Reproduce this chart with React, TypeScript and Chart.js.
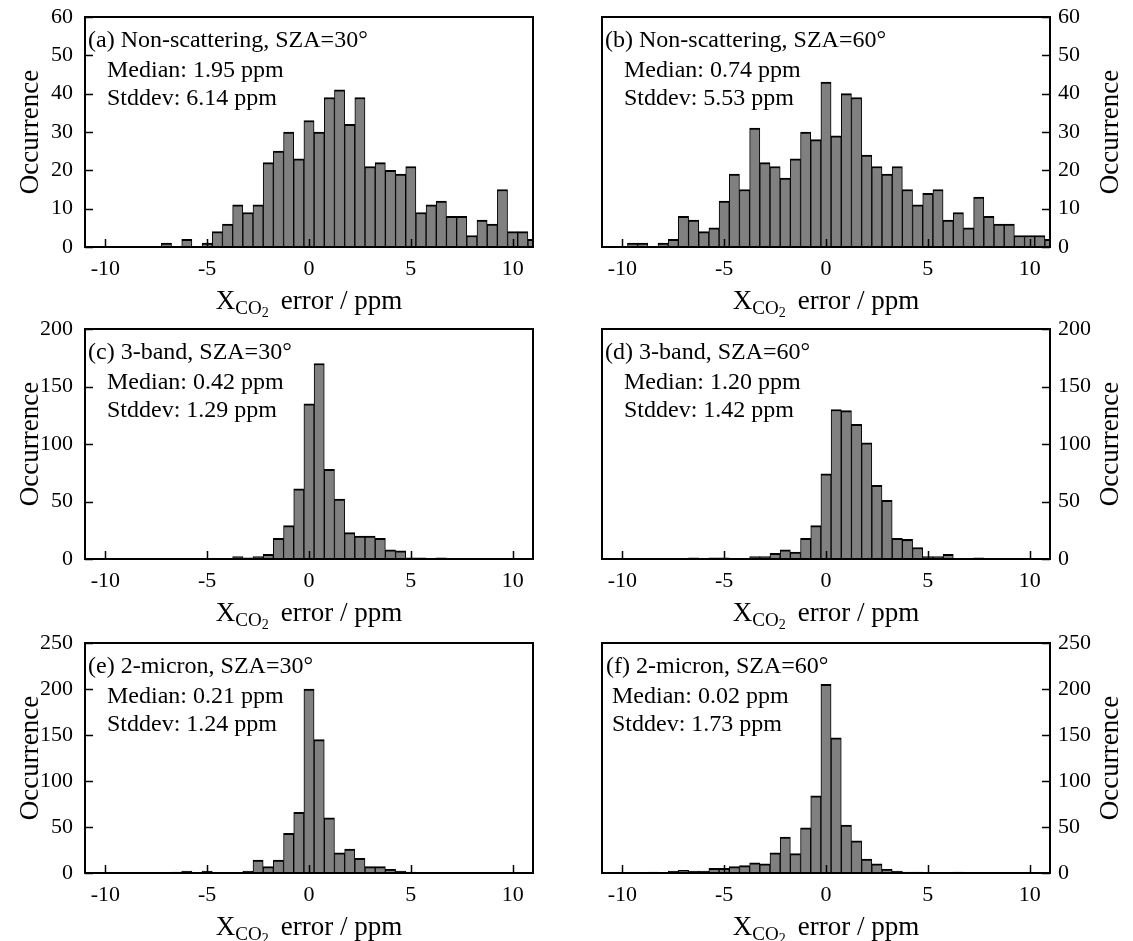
import React, { useEffect, useRef } from "react";
import { Chart, registerables } from "chart.js";

Chart.register(...registerables);

// Histogram bin centres (0.5 ppm bins) and the shared x tick values
const BIN_CENTERS = [
  -11, -10.5, -10, -9.5, -9, -8.5, -8, -7.5, -7, -6.5, -6, -5.5, -5, -4.5, -4,
  -3.5, -3, -2.5, -2, -1.5, -1, -0.5, 0, 0.5, 1, 1.5, 2, 2.5, 3, 3.5, 4, 4.5,
  5, 5.5, 6, 6.5, 7, 7.5, 8, 8.5, 9, 9.5, 10, 10.5, 11,
];
const X_TICKS = [-10, -5, 0, 5, 10];

// Occurrence per bin for each retrieval setup
const COUNTS_A = [
  0, 0, 0, 0, 0, 0, 0, 0, 1, 0, 2, 0, 1, 4, 6, 11, 9, 11, 22, 25, 30, 23, 33,
  30, 39, 41, 32, 39, 21, 22, 20, 19, 21, 9, 11, 12, 8, 8, 3, 7, 6, 15, 4, 4, 2,
];
const COUNTS_B = [
  0, 0, 0, 1, 1, 0, 1, 2, 8, 7, 4, 5, 12, 19, 15, 31, 22, 21, 18, 23, 30, 28,
  43, 29, 40, 39, 24, 21, 19, 21, 15, 11, 14, 15, 7, 9, 5, 13, 8, 6, 6, 3, 3, 3, 2,
];
const COUNTS_C = [
  0, 0, 0, 0, 0, 0, 0, 0, 0, 0, 0, 0, 0, 0, 0, 2, 1, 2, 4, 18, 29, 61, 135,
  170, 78, 52, 23, 20, 20, 18, 8, 7, 1, 1, 0, 1, 0, 0, 0, 0, 0, 0, 0, 0, 0,
];
const COUNTS_D = [
  0, 0, 0, 0, 0, 0, 0, 0, 0, 1, 0, 1, 1, 0, 0, 2, 2, 5, 8, 6, 18, 29, 74, 130,
  129, 117, 101, 64, 51, 18, 17, 10, 2, 2, 4, 0, 0, 1, 0, 0, 0, 0, 0, 0, 0,
];
const COUNTS_E = [
  0, 0, 0, 0, 0, 0, 0, 0, 0, 1, 2, 0, 2, 0, 0, 0, 2, 14, 7, 14, 43, 66, 200,
  145, 60, 22, 26, 16, 7, 7, 4, 2, 1, 0, 0, 0, 0, 0, 0, 0, 0, 0, 0, 0, 0,
];
const COUNTS_F = [
  0, 0, 0, 0, 0, 1, 0, 2, 3, 2, 2, 5, 5, 7, 8, 11, 10, 22, 39, 21, 49, 84, 205,
  147, 52, 35, 15, 10, 4, 2, 1, 1, 0, 0, 0, 1, 0, 0, 0, 0, 0, 0, 0, 0, 0,
];

const PANEL_TITLES = [
  "(a) Non-scattering, SZA=30°",
  "(b) Non-scattering, SZA=60°",
  "(c) 3-band, SZA=30°",
  "(d) 3-band, SZA=60°",
  "(e) 2-micron, SZA=30°",
  "(f) 2-micron, SZA=60°",
];
const MEDIANS = ["1.95", "0.74", "0.42", "1.20", "0.21", "0.02"];
const STDDEVS = ["6.14", "5.53", "1.29", "1.42", "1.24", "1.73"];
const Y_MAX = [60, 60, 200, 200, 250, 250];
const Y_STEP = [10, 10, 50, 50, 50, 50];

const ALL_COUNTS = [COUNTS_A, COUNTS_B, COUNTS_C, COUNTS_D, COUNTS_E, COUNTS_F];

const SERIF = '"Liberation Serif", "Times New Roman", serif';
const CANVAS_H = 330;
const ROW_Y = [0, 312, 626];

type PanelSpec = {
  index: number;
  side: "left" | "right";
  row: number;
  statInset: number;
  titleInset: number;
};

const PANELS: PanelSpec[] = [
  { index: 0, side: "left", row: 0, statInset: 22, titleInset: 3 },
  { index: 1, side: "right", row: 0, statInset: 22, titleInset: 3 },
  { index: 2, side: "left", row: 1, statInset: 22, titleInset: 3 },
  { index: 3, side: "right", row: 1, statInset: 22, titleInset: 3 },
  { index: 4, side: "left", row: 2, statInset: 22, titleInset: 3 },
  { index: 5, side: "right", row: 2, statInset: 10, titleInset: 4 },
];

function makeDecorPlugin(spec: PanelSpec) {
  return {
    id: "panelDecor",
    afterDraw(chart: any) {
      const { ctx, chartArea: a, scales } = chart;
      const i = spec.index;
      ctx.save();

      // inward tick marks
      ctx.strokeStyle = "#000";
      ctx.lineWidth = 1.5;
      ctx.beginPath();
      for (const t of scales.x.ticks) {
        const px = Math.round(scales.x.getPixelForValue(t.value)) + 0.5;
        ctx.moveTo(px, a.bottom);
        ctx.lineTo(px, a.bottom - 8);
      }
      for (const t of scales.y.ticks) {
        const py = Math.round(scales.y.getPixelForValue(t.value)) + 0.5;
        if (spec.side === "left") {
          ctx.moveTo(a.left, py);
          ctx.lineTo(a.left + 8, py);
        } else {
          ctx.moveTo(a.right, py);
          ctx.lineTo(a.right - 8, py);
        }
      }
      ctx.stroke();

      // frame
      ctx.lineWidth = 2;
      ctx.strokeRect(a.left, a.top, a.right - a.left, a.bottom - a.top);

      // panel annotation
      ctx.fillStyle = "#000";
      ctx.textBaseline = "alphabetic";
      ctx.textAlign = "left";
      ctx.font = `24px ${SERIF}`;
      ctx.fillText(PANEL_TITLES[i], a.left + spec.titleInset, a.top + 30);
      ctx.fillText(`Median: ${MEDIANS[i]} ppm`, a.left + spec.statInset, a.top + 60);
      ctx.fillText(`Stddev: ${STDDEVS[i]} ppm`, a.left + spec.statInset, a.top + 88);

      // x-axis title with subscript
      const parts: [string, number, number, number][] = [
        ["X", 27, 0, 0],
        ["CO", 19, 5, 0],
        ["2", 14, 8, 12],
        ["error / ppm", 27, 0, 0],
      ];
      let total = 0;
      for (const [txt, size, , gap] of parts) {
        ctx.font = `${size}px ${SERIF}`;
        total += ctx.measureText(txt).width + gap;
      }
      let x = (a.left + a.right) / 2 - total / 2;
      const base = a.bottom + 62;
      for (const [txt, size, dy, gap] of parts) {
        ctx.font = `${size}px ${SERIF}`;
        ctx.fillText(txt, x, base + dy);
        x += ctx.measureText(txt).width + gap;
      }

      // y-axis title
      ctx.font = `27px ${SERIF}`;
      ctx.textAlign = "center";
      const cy = (a.top + a.bottom) / 2;
      const bx = spec.side === "left" ? 38 : chart.width - 15;
      ctx.translate(bx, cy);
      ctx.rotate(-Math.PI / 2);
      ctx.fillText("Occurrence", 0, 0);
      ctx.restore();
    },
  };
}

function HistPanel({ spec }: { spec: PanelSpec }) {
  const ref = useRef<HTMLCanvasElement>(null);
  const width = spec.side === "left" ? 566 : 567;
  const left = spec.side === "left" ? 0 : 566;

  useEffect(() => {
    const i = spec.index;
    const counts = ALL_COUNTS[i];
    const tickFont = { family: SERIF, size: 22 };
    const chart = new Chart(ref.current as HTMLCanvasElement, {
      type: "bar",
      data: {
        datasets: [
          {
            data: BIN_CENTERS.map((c, k) => ({ x: c, y: counts[k] })),
            backgroundColor: "#808080",
            borderColor: "#000",
            borderWidth: { top: 2, left: 1, right: 1, bottom: 0 },
            borderSkipped: false,
            categoryPercentage: 1,
            barPercentage: 1,
            clip: 0,
          } as any,
        ],
      },
      options: {
        responsive: false,
        animation: false,
        events: [],
        layout: {
          padding: {
            top: 17,
            bottom: 0,
            left: spec.side === "left" ? 0 : 36,
            right: spec.side === "left" ? 33 : 0,
          },
        },
        plugins: {
          legend: { display: false },
          tooltip: { enabled: false },
        },
        scales: {
          x: {
            type: "linear",
            offset: false,
            min: -11,
            max: 11,
            grid: { display: false, drawTicks: false, offset: false },
            border: { display: false },
            afterBuildTicks: (s: any) => {
              s.ticks = X_TICKS.map((v) => ({ value: v }));
            },
            afterFit: (s: any) => {
              s.height = 83;
              s.paddingLeft = 0;
              s.paddingRight = 0;
            },
            ticks: {
              font: tickFont,
              color: "#000",
              padding: 9,
              maxRotation: 0,
              autoSkip: false,
              callback: (v: any) => String(v),
            },
          },
          y: {
            type: "linear",
            position: spec.side,
            min: 0,
            max: Y_MAX[i],
            grid: { display: false, drawTicks: false },
            border: { display: false },
            afterFit: (s: any) => {
              s.width = spec.side === "left" ? 85 : 83;
              s.paddingTop = 0;
              s.paddingBottom = 0;
            },
            ticks: {
              stepSize: Y_STEP[i],
              font: tickFont,
              color: "#000",
              padding: spec.side === "left" ? 12 : 8,
              callback: (v: any) => String(v),
            },
          },
        },
      } as any,
      plugins: [makeDecorPlugin(spec)],
    });
    return () => chart.destroy();
  }, [spec]);

  return (
    <canvas
      ref={ref}
      width={width}
      height={CANVAS_H}
      style={{
        position: "absolute",
        left,
        top: ROW_Y[spec.row],
        width,
        height: CANVAS_H,
      }}
    />
  );
}

export default function App() {
  return (
    <div
      style={{
        position: "absolute",
        left: 0,
        top: 0,
        width: 1133,
        height: 941,
        overflow: "hidden",
        background: "#fff",
      }}
    >
      {PANELS.map((p) => (
        <HistPanel key={p.index} spec={p} />
      ))}
    </div>
  );
}
